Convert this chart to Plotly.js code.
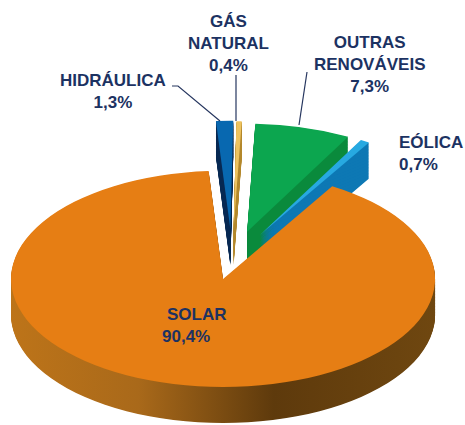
<!DOCTYPE html>
<html><head><meta charset="utf-8">
<script src="https://cdn.plot.ly/plotly-3.0.1.min.js"></script>
<style>html,body{margin:0;padding:0;background:#fff}</style></head>
<body><div id="c" style="width:465px;height:425px"></div>
<script>
const categories=['HIDRÁULICA','GÁS NATURAL','OUTRAS RENOVÁVEIS','EÓLICA','SOLAR'];
const values=[1.3,0.4,7.3,0.7,90.4];
const valueLabels=['1,3%','0,4%','7,3%','0,7%','90,4%'];
const topColors=['#0868b0','#eec35f','#0ca64f','#27a9e1','#e67e14'];
const sideColors=['#0a2c55','#b58a30','#0a8a3c','#0d78b4','#8a5510'];
const pulls=[0.288,0.283,0.27,0.265,0.18];
const W=465,H=425,depthLayers=48,domH=0.85,domStep=0.11/depthLayers;
const rotation=-3.9;

const traces=[];
for(let i=0;i<=depthLayers;i++){
  const y0=i*domStep;
  traces.push({type:'pie',values:values,labels:categories,sort:false,direction:'clockwise',rotation:rotation,
    pull:pulls,textinfo:'none',hoverinfo:'skip',showlegend:false,
    domain:{x:[0,1],y:[y0,y0+domH]},
    marker:{colors:i===depthLayers?topColors:sideColors,line:{width:0}}});
}
const ink='#1c3262';
const font={family:'Liberation Sans, Arial, sans-serif',size:17,color:ink};
function lab(x,y,t,al){return {xref:'paper',yref:'paper',x:x/W,y:1-y/H,xanchor:al||'center',yanchor:'middle',text:'<b>'+t+'</b>',showarrow:false,font:font,align:al||'center'};}
const annotations=[
 lab(228,44,'GÁS<br>NATURAL<br>'+valueLabels[1]),
 lab(369,64,'OUTRAS<br>RENOVÁVEIS<br>'+valueLabels[2]),
 lab(113,91,categories[0]+'<br>'+valueLabels[0]),
 lab(397,154,categories[3]+'<br>'+valueLabels[3],'left'),
 lab(165,314,categories[4],'left'),
 lab(160,336,valueLabels[4],'left')
];
function leader(pts){return {type:'path',xref:'paper',yref:'paper',line:{color:'#26365f',width:1.2},
  path:pts.map((p,i)=>(i?'L':'M')+(p[0]/W)+','+(1-p[1]/H)).join(' ')};}
const shapes=[leader([[172,86],[178,86],[220,121]]),leader([[236,75],[236,121]]),leader([[307,72],[299,125]])];
const layout={width:W,height:H,margin:{l:0,r:0,t:0,b:0},paper_bgcolor:'#fff',plot_bgcolor:'#fff',
  showlegend:false,annotations:annotations,shapes:shapes};
Plotly.newPlot('c',traces,layout,{displayModeBar:false,staticPlot:true}).then(()=>{
  const maxPull=Math.max(...pulls);
  const r=Math.min(W,H*domH)/(2+2*maxPull);
  const sx=212/r, sy=0.51*sx;
  const cy=H*(1-(depthLayers*domStep+domH/2));
  const tx=232-(W/2)*sx, ty=260-cy*sy;
  const pl=document.querySelector('.pielayer');
  pl.setAttribute('transform','translate('+tx+','+ty+') scale('+sx+','+sy+')');
  const svg=document.querySelector('.main-svg');
  const ns='http://www.w3.org/2000/svg';
  const g=document.createElementNS(ns,'linearGradient');g.setAttribute('id','solarSide');
  [[0,'#bd7419'],[0.3,'#a9691a'],[0.62,'#5e3a0c'],[1,'#6f4710']].forEach(s=>{
    const st=document.createElementNS(ns,'stop');st.setAttribute('offset',s[0]);st.setAttribute('stop-color',s[1]);g.appendChild(st);});
  svg.querySelector('defs').appendChild(g);
  const tr=pl.querySelectorAll('.trace');
  tr.forEach((t,i)=>{ if(i<tr.length-1){const sl=t.querySelectorAll('.slice'); const p=sl[4]&&sl[4].querySelector('path'); if(p)p.style.fill='url(#solarSide)';}});
});
</script></body></html>
